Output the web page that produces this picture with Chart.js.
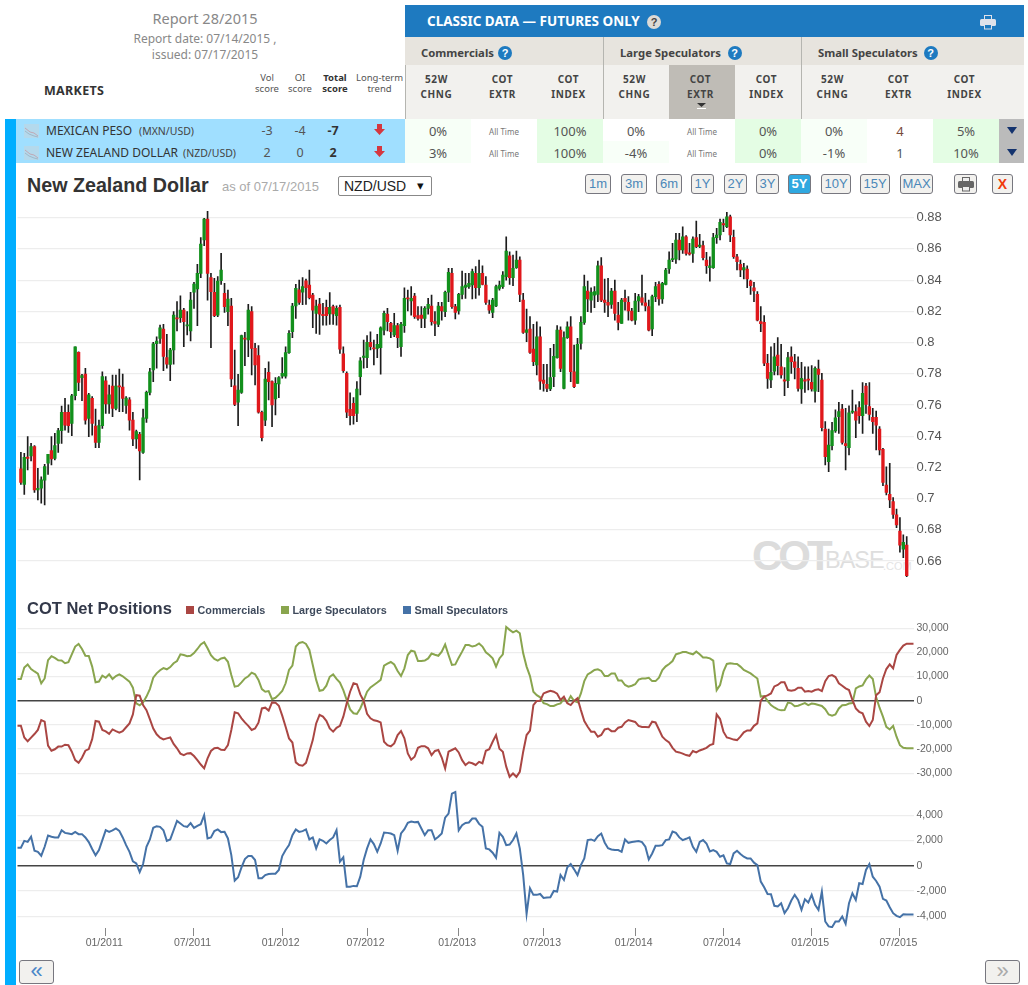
<!DOCTYPE html>
<html>
<head>
<meta charset="utf-8">
<title>COT NZD/USD</title>
<script src="https://cdn.jsdelivr.net/npm/chart.js@4/dist/chart.umd.min.js"></script>
<style>
html,body{margin:0;padding:0;background:#fff;overflow:hidden}
#page{position:relative;width:1028px;height:985px;overflow:hidden;font-family:"Noto Sans",sans-serif}
#page div{position:absolute;white-space:nowrap}
svg{display:block}
canvas{position:absolute;left:0}
.btn{box-sizing:border-box;background:#f2f1ee;border:1px solid #77777f;border-radius:3px;color:#4a87b8;font:13px "Liberation Sans",sans-serif;text-align:center;line-height:18px}
.q{width:14px;height:14px;border-radius:7px;color:#fff;font:bold 11px/14px "Liberation Sans",sans-serif;text-align:center;background:#1e7ac0}
</style>
</head>
<body>
<div id="page">
  <div style="left:5px;top:119px;width:11px;height:866px;background:#00aeff"></div>
  <div style="left:16px;top:119px;width:389px;height:44px;background:#a0dfff"></div>
  <div style="left:405px;top:5px;width:619px;height:32px;background:#1e7ac0"></div>
  <div style="left:405px;top:37px;width:619px;height:28px;background:#e7e4de"></div>
  <div style="left:405px;top:65px;width:619px;height:54px;background:#f2f1ee"></div>
  <div style="left:669px;top:65px;width:66px;height:54px;background:#bfbcb6"></div>
  <div style="left:405px;top:65px;width:1px;height:54px;background:#b5b5b0"></div>
  <div style="left:603px;top:37px;width:1px;height:82px;background:#b5b5b0"></div>
  <div style="left:801px;top:37px;width:1px;height:82px;background:#b5b5b0"></div>
  <div style="left:999px;top:119px;width:25px;height:44px;background:#bbb"></div>
  <div id="wm1" style="left:752px;top:532px;font:bold 42px 'Liberation Sans';letter-spacing:-4px;color:#dcdcdc">COT</div>
  <div id="wm2" style="left:825px;top:547px;font:23.5px 'Liberation Sans';letter-spacing:-1px;color:#dedede">BASE</div>
  <div id="wm3" style="left:883px;top:560px;font:11px 'Liberation Sans';color:#e4e4e4">.COM</div>
  <canvas id="chart_price" width="1028" height="385" style="top:200px"></canvas>
  <canvas id="chart_net" width="1028" height="175" style="top:615px"></canvas>
  <canvas id="chart_small" width="1028" height="170" style="top:785px"></canvas>
</div>
<script>
// weekly candles, 07/2010 - 07/2015
const opens = [
  .719,.7091,.7264,.7273,.7333,.7055,.7066,.7118,.7226,.7307,
  .7258,.7354,.7435,.7553,.7553,.7482,.7659,.7937,.7775,.7798,
  .7514,.7642,.7465,.736,.7467,.7755,.7606,.7721,.7578,.7721,
  .7715,.7597,.7632,.7503,.7382,.7412,.7296,.7514,.7681,.7824,
  .7993,.8027,.8087,.7903,.786,.7952,.8159,.8159,.8208,.8106,
  .8074,.8322,.8343,.8443,.8657,.8791,.8416,.8322,.8176,.8396,
  .8315,.8198,.8234,.7723,.7617,.7681,.8027,.8016,.8198,.7963,
  .7916,.7553,.7503,.7809,.7749,.7638,.7734,.7785,.7785,.7935,
  .8069,.8234,.8337,.8322,.8396,.8369,.8304,.8187,.8247,.8181,
  .8226,.8183,.823,.8172,.8226,.7927,.7802,.7572,.761,.7546,
  .7781,.7905,.7903,.8001,.7963,.7963,.7967,.808,.8183,.8123,
  .8048,.8108,.7973,.8108,.8283,.8266,.8298,.8172,.8176,.8155,
  .8219,.8234,.8134,.8116,.823,.8198,.8322,.8443,.823,.8202,
  .8309,.8354,.8358,.8369,.8443,.8351,.8443,.8369,.824,.8193,
  .8234,.8347,.8358,.8422,.8556,.8415,.8479,.8529,.8272,.8065,
  .8087,.7958,.7856,.8037,.7759,.7732,.7702,.7781,.7903,.808,
  .7706,.8031,.8101,.7813,.7738,.7995,.8129,.833,.8272,.8304,
  .8309,.8492,.8272,.8257,.8245,.833,.8176,.8123,.8283,.8257,
  .8202,.8144,.8266,.8287,.8255,.823,.8087,.8294,.8373,.8279,
  .8373,.8471,.8531,.8535,.8657,.8593,.8678,.8571,.8571,.8672,
  .8616,.8621,.8529,.848,.848,.8672,.8689,.8762,.8742,.8806,
  .8674,.855,.8501,.8465,.8471,.8394,.8351,.8309,.8134,.8129,
  .7867,.776,.7817,.792,.7845,.776,.7755,.7909,.7877,.7835,
  .7702,.776,.7764,.7745,.7689,.783,.776,.7446,.7236,.7339,
  .7433,.7525,.7574,.7352,.7326,.7553,.7557,.7583,.7531,.7721,
  .7589,.7521,.7521,.7446,.7315,.7087,.7027,.698,.6895,.6792,
  .6675,.6702
];
const highs = [
  .7296,.729,.7397,.7354,.7339,.7194,.714,.722,.7283,.7397,
  .7418,.745,.7593,.7642,.76,.7668,.7973,.7941,.7796,.7835,
  .7674,.7653,.7574,.7503,.7813,.7781,.7728,.7792,.7792,.783,
  .7798,.7653,.7647,.7553,.7439,.7424,.7574,.7689,.7835,.8001,
  .8037,.8112,.8116,.8053,.7963,.8198,.8262,.83,.8219,.8198,
  .8322,.8386,.8501,.8672,.8796,.8843,.8443,.8411,.8422,.8571,
  .8379,.8336,.8283,.7952,.7796,.8048,.8065,.8245,.823,.7995,
  .798,.7561,.7835,.7877,.7755,.7775,.7781,.7903,.7973,.8076,
  .8251,.8373,.84,.8416,.8407,.8465,.8315,.8272,.8283,.8251,
  .8272,.832,.824,.8236,.824,.7973,.7813,.7678,.7647,.7749,
  .7903,.8016,.8044,.8069,.8016,.8052,.8101,.8202,.8219,.8129,
  .8187,.8123,.8129,.8351,.8336,.8358,.8315,.823,.823,.823,
  .8283,.8304,.8198,.8258,.8258,.833,.8475,.8475,.8245,.8315,
  .8458,.8443,.8443,.8471,.8486,.8529,.8492,.8422,.8272,.8283,
  .8369,.8394,.8454,.8678,.8582,.856,.8586,.855,.8315,.8215,
  .8166,.8116,.8133,.8101,.786,.786,.7963,.7988,.8108,.8101,
  .8069,.8133,.8166,.7984,.8027,.8166,.8433,.8394,.8351,.8358,
  .8522,.8544,.8407,.8411,.8347,.84,.8258,.8283,.8336,.8294,
  .8219,.8315,.8309,.8433,.8315,.8272,.8304,.8386,.839,.8386,
  .8475,.8582,.8635,.87,.87,.8742,.8685,.8636,.8678,.8779,
  .8693,.865,.8578,.855,.87,.8732,.8791,.8791,.8834,.8817,
  .8721,.8565,.8529,.8507,.8492,.84,.8386,.8326,.823,.8172,
  .7924,.7973,.7995,.8031,.7988,.7839,.7937,.7973,.7924,.7909,
  .7873,.7845,.7845,.7852,.7845,.7888,.7802,.7493,.7446,.7488,
  .7568,.7617,.7604,.7578,.7595,.7696,.76,.7621,.7743,.7739,
  .7743,.7578,.7561,.7461,.7322,.7204,.7226,.7006,.6933,.6878,
  .6767,.6756
];
const lows = [
  .7091,.7027,.7183,.7241,.704,.6991,.697,.696,.7155,.7215,
  .7247,.7296,.7354,.7439,.7424,.7403,.7632,.7691,.7627,.7476,
  .7397,.7407,.7326,.7326,.745,.7546,.7546,.7525,.7568,.7557,
  .7557,.7546,.7439,.7339,.7322,.7119,.729,.7488,.7664,.7749,
  .7835,.7995,.782,.7835,.7755,.7862,.8074,.8129,.7973,.8048,
  .801,.8219,.8108,.8416,.862,.8272,.7967,.8166,.8166,.8373,
  .8193,.8108,.7717,.7596,.7467,.7674,.7852,.7909,.7792,.7728,
  .7547,.7369,.7467,.7632,.7461,.7536,.7647,.7771,.7771,.7931,
  .8031,.8155,.8245,.8242,.8245,.8279,.8096,.8059,.8052,.8112,
  .8112,.8116,.8116,.8112,.7931,.7809,.7518,.7472,.7476,.7493,
  .7664,.7835,.7839,.7952,.7856,.7903,.7798,.8048,.8074,.8031,
  .8037,.7967,.7911,.8065,.8202,.8176,.8155,.8144,.8096,.8096,
  .8181,.8112,.8044,.8101,.8144,.8166,.8262,.8219,.8151,.8181,
  .8279,.8283,.8347,.8279,.8283,.8304,.8369,.8245,.8187,.8159,
  .823,.8336,.8347,.84,.8373,.8364,.8475,.8262,.8059,.8005,
  .7931,.7852,.7792,.77,.7689,.7685,.7691,.7717,.7899,.7813,
  .7702,.8027,.7749,.7711,.7738,.7958,.8116,.8198,.8193,.8223,
  .8262,.8262,.8193,.8166,.8219,.8144,.8081,.8123,.8208,.8144,
  .8138,.8116,.8198,.824,.8202,.8074,.8044,.8262,.824,.8251,
  .8369,.8443,.8518,.8507,.8529,.8571,.856,.856,.8514,.8608,
  .8608,.8529,.8443,.8394,.8475,.8636,.8657,.871,.8736,.8646,
  .8539,.8465,.8422,.8407,.8351,.8309,.8262,.8138,.8069,.7852,
  .7706,.7711,.7792,.7792,.7771,.7659,.7711,.7802,.7766,.7689,
  .761,.7681,.7696,.7689,.7617,.7685,.7433,.7215,.7172,.7311,
  .7424,.7418,.7348,.7183,.7279,.7546,.739,.7482,.7418,.7546,
  .7503,.7418,.7311,.7279,.7083,.7023,.6942,.6873,.6814,.6656,
  .6621,.65
];
const closes = [
  .7104,.7264,.7258,.7333,.7055,.7066,.712,.7205,.7283,.7254,
  .7339,.7435,.7553,.7471,.7467,.7659,.7973,.7745,.7788,.7503,
  .7664,.7482,.736,.7467,.7781,.7606,.7664,.7578,.7721,.7715,
  .7641,.7644,.7503,.7382,.7429,.7305,.7518,.7681,.7813,.7991,
  .801,.8095,.7911,.7862,.7952,.8176,.8151,.8208,.8134,.8112,
  .8272,.8375,.8443,.8631,.8791,.8443,.8326,.8172,.8394,.8465,
  .823,.8279,.7766,.7604,.7696,.8044,.8021,.8208,.7963,.7856,
  .7553,.7391,.7766,.7749,.76,.7738,.7775,.7802,.7935,.8059,
  .8234,.8347,.8257,.8358,.8351,.8287,.8208,.8234,.8181,.8172,
  .8172,.8226,.8183,.8219,.7958,.782,.7553,.7532,.7532,.7702,
  .7882,.7908,.8001,.7973,.7959,.7988,.8095,.8187,.8134,.8069,
  .8108,.8031,.8116,.8283,.8279,.8283,.8166,.8155,.8155,.8219,
  .8245,.8134,.8123,.8234,.8202,.8322,.845,.823,.8193,.8309,
  .8358,.8369,.8379,.8454,.8351,.8443,.8373,.8257,.8208,.8272,
  .8358,.8369,.8433,.8586,.8415,.8475,.8529,.8309,.8065,.8082,
  .7937,.7877,.8037,.7753,.7738,.7706,.7775,.7911,.808,.7834,
  .8031,.8101,.7813,.7717,.7988,.8129,.8358,.8279,.8322,.8326,
  .8492,.8272,.8257,.824,.833,.8187,.8129,.8272,.8262,.8202,
  .8144,.8266,.8294,.8257,.8234,.808,.8294,.8358,.8279,.8379,
  .8465,.8529,.8535,.8657,.8593,.8678,.8571,.8567,.8663,.8614,
  .8625,.8544,.8492,.8491,.8672,.8689,.877,.8753,.8806,.8689,
  .855,.8518,.8465,.848,.8407,.8364,.833,.8144,.8121,.7867,
  .777,.7809,.7909,.7852,.7792,.7753,.7903,.7877,.7841,.7706,
  .777,.7753,.7758,.7702,.7835,.7796,.7454,.7268,.7343,.7435,
  .7518,.7557,.736,.7339,.755,.7561,.7503,.7531,.7674,.7604,
  .754,.7493,.7471,.7311,.7104,.704,.6991,.6899,.6831,.6702,
  .672,.6506
];

// net positions, one value a week
const commercials = [
  -10400,-10400,-15200,-16800,-15300,-13800,-12100,-8000,-8700,-18600,
  -20700,-20100,-19000,-19000,-18200,-18400,-21100,-24600,-25700,-23600,
  -20700,-20000,-15900,-8400,-8700,-12100,-12700,-13700,-11900,-12600,
  -13200,-12600,-11000,-9400,-5700,2300,2100,-1800,-3900,-7600,
  -11500,-13900,-15300,-16000,-15600,-15200,-17900,-19700,-21900,-22500,
  -21800,-21700,-22900,-24600,-26400,-28000,-23900,-20800,-19700,-19500,
  -20300,-20400,-18400,-12100,-4800,-5200,-7300,-9000,-10400,-12100,
  -11500,-9100,-3200,-2900,-4100,-700,-800,-2100,-6200,-10800,
  -15600,-17300,-25500,-26600,-26900,-25700,-21100,-16300,-9400,-5900,
  -6600,-8300,-11500,-12800,-11200,-10400,-6600,-1100,3700,7200,
  6800,2600,-100,-5400,-7300,-8100,-8400,-9000,-17000,-18400,
  -18900,-17700,-14200,-12600,-15600,-21800,-24400,-23200,-19500,-18800,
  -18800,-19700,-22500,-20800,-20400,-23500,-28000,-21100,-20400,-19700,
  -21400,-24600,-26600,-25500,-25900,-26600,-25300,-25900,-20700,-20100,
  -17000,-14200,-19900,-21100,-27300,-31500,-30100,-31500,-29400,-21100,
  -14200,-12400,-1800,-100,0,3000,3600,4100,3700,2900,
  300,1700,-1100,-1800,-100,1000,-3900,-8400,-10800,-12800,
  -12800,-14900,-14200,-11900,-11500,-12600,-12600,-11200,-10800,-9000,
  -8000,-8400,-8800,-10400,-10900,-10900,-11000,-8700,-9000,-11900,
  -14900,-16300,-17300,-19500,-21100,-21400,-21900,-22500,-22800,-20800,
  -21400,-20600,-20100,-19500,-18400,-17900,-5700,-7600,-12800,-15200,
  -15600,-16100,-16300,-14900,-13100,-12300,-12300,-10400,-9400,0,
  1700,2200,3000,5900,6500,7600,7600,4400,4100,4400,
  5400,5400,3700,4000,3700,4400,4700,4000,8100,10200,
  10600,9800,7200,6200,5100,4400,300,-3200,-4600,-5200,
  -8700,-10500,-8000,2300,3500,9200,13100,15000,13400,18900,
  21000,22800,23600,23600,23600
];
const largeSpecs = [
  9000,9000,13700,15000,13100,12100,11200,7200,9200,16800,
  18400,17700,16700,16600,15500,15900,19200,22400,23500,21400,
  18600,18500,14100,7600,7900,10400,9500,10900,9000,10200,
  10900,10100,9000,7900,5400,-1100,-1900,-700,1700,4800,
  9500,11300,12600,13500,13000,13900,15500,16400,19200,18900,
  18400,18600,19700,21400,23300,24200,21700,18800,17300,16600,
  17500,17800,16100,10600,5800,6100,7600,9200,10100,11600,
  10900,8600,4800,3700,4000,600,1200,2500,4000,7200,
  12700,14500,22400,23900,24300,23500,21000,14800,8600,4100,
  4400,6200,9900,10900,9000,7500,4400,300,-3600,-5200,
  -5500,-3200,100,3700,5500,6500,7500,8600,14500,15300,
  16000,15000,12300,10200,13400,18900,20700,20300,16400,16400,
  16600,17500,19500,19000,18600,20300,23300,18900,14800,15000,
  17800,20300,23000,23000,22400,22800,23700,22400,20000,18900,
  17500,14100,17500,19200,30500,29300,28300,29000,27900,19600,
  14100,10200,3700,2300,1400,-1000,-1400,-2200,-2200,-1500,
  -1100,700,-700,1900,-100,-600,3000,8100,10900,11700,
  12700,13000,12300,10200,10200,11300,11300,8400,8400,6500,
  5800,6200,6800,8700,9200,9200,9500,8100,8100,9500,
  12700,14200,15200,16400,19200,19600,20100,20100,19600,19200,
  20300,19200,17900,17900,17500,16600,4400,6500,12000,15200,
  15500,15300,15200,14100,12700,12000,11300,10200,9200,1700,
  1900,-100,-1800,-2800,-3600,-4000,-3900,-800,-1100,-2300,
  -2100,-1500,-1000,-1800,-1200,-1400,-1800,-2200,-3500,-5700,
  -6200,-5700,-3200,-1900,-1800,-1200,-1000,5100,5900,6300,
  8800,10400,9000,1400,-2900,-6600,-10800,-11900,-10400,-14900,
  -18400,-19500,-19700,-19700,-19700
];
const smallSpecs = [
  1420,1420,1970,1890,2290,1180,1100,790,1500,2390,
  2290,2240,2240,2810,2600,2550,2500,2680,2500,2500,
  2240,1870,1320,820,1240,2030,2810,2680,2790,2950,
  2760,2240,1630,1100,340,180,-500,130,1500,2080,
  3000,3130,3080,2810,1970,2080,2810,3550,3340,3130,
  3080,3370,3000,3160,3290,4000,2160,2240,2740,2870,
  2660,2680,2160,840,-1180,-920,-130,530,760,760,
  450,-1000,-1000,-740,-660,-630,-630,-340,760,1240,
  1630,2420,2870,2680,2740,2870,2080,2240,1370,2080,
  1970,1760,2030,2240,2810,320,660,-1660,-1660,-1600,
  -1630,-870,450,1370,2080,1710,1100,1760,2630,2600,
  2550,2420,1180,2550,2890,3390,3500,3450,3470,2950,
  2420,2810,2810,2080,2290,2550,3810,4130,5710,5840,
  2810,3210,3390,3420,3730,3730,3310,3080,1370,1290,
  1030,630,2600,2290,1630,1680,2030,2550,1370,-740,
  -3810,-1790,-2310,-2310,-2240,-2550,-2520,-2500,-2000,-2050,
  -740,-1130,-130,130,-290,-740,50,580,2030,2080,
  1970,2340,2550,1840,1390,1290,1240,1240,1100,2080,
  1810,1870,1920,1950,1870,1500,500,970,1580,1580,
  1630,2030,2080,2710,2600,2240,2030,2130,2240,1500,
  1100,1890,2030,1760,1130,1240,1100,710,820,180,
  130,970,1180,920,710,580,580,240,50,-1260,
  -1710,-2240,-2260,-3180,-3230,-2970,-3760,-3370,-2760,-2310,
  -2710,-3500,-2660,-2920,-2310,-3100,-3500,-2050,-4420,-4810,
  -4870,-4420,-4420,-4020,-4600,-2970,-2180,-2710,-1390,-1450,
  -340,130,-870,-1210,-1660,-2630,-2760,-3290,-3760,-3970,
  -4080,-3840,-3870,-3870,-3870
];

const priceTicks = [0.88,0.86,0.84,0.82,0.8,0.78,0.76,0.74,0.72,0.7,0.68,0.66];
const netTicks = [30000,20000,10000,0,-10000,-20000,-30000];
const smallTicks = [4000,2000,0,-2000,-4000];
const tickWeeks = [26,52,78,103,130,155,182,208,234,260];
const tickLabels = ['01/2011','07/2011','01/2012','07/2012','01/2013','07/2013','01/2014','07/2014','01/2015','07/2015'];

const weeks = Array.from({length: 265}, (_, i) => i);
const axisFont = '"Liberation Sans", Arial, sans-serif';
const GRID = '#ededed';

function yAxis(ticks, min, max, fontSize, color, fmt) {
    return {
        position: 'right',
        min: min,
        max: max,
        afterBuildTicks: s => { s.ticks = ticks.map(v => ({value: v})); },
        // keep the plot box fixed, no room kept for half a label
        afterFit: s => { s.width = 114.5; s.paddingTop = 0; s.paddingBottom = 0; },
        border: {display: false},
        grid: {
            drawTicks: false,
            color: c => c.tick && c.tick.value === 0 ? '#444' : GRID,
            lineWidth: c => c.tick && c.tick.value === 0 ? 1.4 : 1.2
        },
        ticks: {
            padding: 3,
            autoSkip: false,
            color: color,
            font: {family: axisFont, size: fontSize},
            callback: fmt
        }
    };
}

const thousands = v => v.toLocaleString('en-US');

// price panel: thin bar high-low behind, thick bar open-close
new Chart(document.getElementById('chart_price'), {
    type: 'bar',
    data: {
        labels: weeks,
        datasets: [
            {
                label: 'High-Low',
                data: [null].concat(highs.map((h, i) => [lows[i], h])),
                backgroundColor: '#1c1c1c',
                barThickness: 1,
                grouped: false,
                order: 2
            },
            {
                label: 'Open-Close',
                data: [null].concat(opens.map((o, i) => [o, closes[i]])),
                backgroundColor: [null].concat(opens.map((o, i) => closes[i] >= o ? '#12901c' : '#e0181c')),
                barThickness: 2.7,
                minBarLength: 1.2,
                grouped: false,
                order: 1
            }
        ]
    },
    options: {
        responsive: false,
        animation: false,
        layout: {autoPadding: false, padding: {left: 17.5, top: 11, bottom: 5}},
        plugins: {legend: {display: false}, tooltip: {enabled: false}},
        scales: {
            x: {display: false, offset: false},
            y: yAxis(priceTicks, 0.6478, 0.8843, 13, '#555', v => String(parseFloat(v.toFixed(2))))
        }
    }
});

function lineSet(label, data, color) {
    return {label: label, data: data, borderColor: color, backgroundColor: color, borderWidth: 2, pointRadius: 0, tension: 0};
}

new Chart(document.getElementById('chart_net'), {
    type: 'line',
    data: {
        labels: weeks,
        datasets: [
            lineSet('Commercials', commercials, '#aa4643'),
            lineSet('Large Speculators', largeSpecs, '#89a54e')
        ]
    },
    options: {
        responsive: false,
        animation: false,
        layout: {autoPadding: false, padding: {left: 17.5, top: 7, bottom: 8}},
        plugins: {legend: {display: false}, tooltip: {enabled: false}},
        scales: {
            x: {display: false},
            y: yAxis(netTicks, -33640, 32560, 10.5, '#666', thousands)
        }
    }
});

new Chart(document.getElementById('chart_small'), {
    type: 'line',
    data: {
        labels: weeks,
        datasets: [lineSet('Small Speculators', smallSpecs, '#4572a7')]
    },
    options: {
        responsive: false,
        animation: false,
        layout: {autoPadding: false, padding: {left: 17.5, top: 5}},
        plugins: {legend: {display: false}, tooltip: {enabled: false}},
        scales: {
            x: {
                afterBuildTicks: s => { s.ticks = tickWeeks.map(v => ({value: v})); },
                afterFit: s => { s.height = 27; s.paddingLeft = 0; s.paddingRight = 0; },
                border: {display: false},
                grid: {drawOnChartArea: false, tickColor: '#888', tickLength: 8},
                ticks: {
                    autoSkip: false,
                    maxRotation: 0,
                    padding: 1,
                    labelOffset: -1.5,
                    color: '#666',
                    font: {family: axisFont, size: 10.5},
                    callback: v => tickLabels[tickWeeks.indexOf(v)]
                }
            },
            y: yAxis(smallTicks, -4935, 5996, 10.5, '#666', thousands)
        }
    }
});

// page furniture around the charts
const page = document.getElementById('page');
function put(text, x, y, style, anchor) {
    const d = document.createElement('div');
    d.textContent = text;
    d.style.cssText = 'left:' + x + 'px;top:' + y + 'px;line-height:1;transform:translate(' + (anchor === 'c' ? '-50%' : '0') + ',-50%);' + (style || '');
    page.appendChild(d);
    return d;
}
function box(x, y, w, h, color) {
    const d = document.createElement('div');
    d.style.cssText = 'left:' + x + 'px;top:' + y + 'px;width:' + w + 'px;height:' + h + 'px;background:' + color;
    page.insertBefore(d, page.querySelector('canvas'));
}
function question(x, y, bg, fg) {
    const d = document.createElement('div');
    d.className = 'q';
    d.textContent = '?';
    d.style.left = (x - 7) + 'px';
    d.style.top = (y - 7) + 'px';
    if (bg) { d.style.background = bg; d.style.color = fg; }
    page.appendChild(d);
}
function svg(markup, x, y, w, h) {
    const d = document.createElement('div');
    d.style.cssText = 'left:' + x + 'px;top:' + y + 'px;width:' + w + 'px;height:' + h + 'px';
    d.innerHTML = '<svg width="' + w + '" height="' + h + '" xmlns="http://www.w3.org/2000/svg">' + markup + '</svg>';
    page.appendChild(d);
}
const printer = (c, p) => '<rect x="4.5" y="0.5" width="7" height="4" fill="' + p + '" stroke="' + c + '"/><rect x="0" y="4" width="16" height="7" rx="1.5" fill="' + c + '"/><rect x="4.5" y="9.5" width="7" height="4.5" fill="' + p + '" stroke="' + c + '"/>';
const greyT = 'color:#888;font-size:';

put('Report 28/2015', 205, 18, greyT + '14.5px', 'c');
put('Report date: 07/14/2015 ,', 205, 38.5, greyT + '12px', 'c');
put('issued: 07/17/2015', 205, 54.5, greyT + '12px', 'c');
put('MARKETS', 44, 90.5, 'font-weight:bold;font-size:12.5px;color:#333;letter-spacing:.3px');
[['Vol','score',267,''],['OI','score',300,''],['Total','score',335,'font-weight:bold;color:#333;'],['Long-term','trend',379.5,'']].forEach(h => {
    put(h[0], h[2], 77.5, 'font-size:9.5px;color:#555;' + h[3], 'c');
    put(h[1], h[2], 88.5, 'font-size:9.5px;color:#555;' + h[3], 'c');
});

const rows = [
    ['MEXICAN PESO', '(MXN/USD)', 139, '-3', '-4', '-7', 130.5],
    ['NEW ZEALAND DOLLAR', '(NZD/USD)', 183, '2', '0', '2', 152.5]
];
rows.forEach(r => {
    const y = r[6];
    svg('<rect width="15" height="14" fill="#b4d9ec"/><polyline points="1,4 6,8 10,9 14,12" fill="none" stroke="#c0a8b4"/><polyline points="1,7 5,10 10,12 14,13" fill="none" stroke="#a0b8c8"/>', 24, y - 7, 15, 14);
    put(r[0], 46, y, 'font-size:12px;color:#333');
    put(r[1], r[2], y, 'font-size:10.5px;color:#444');
    put(r[3], 267, y, 'font-size:12.5px;color:#555', 'c');
    put(r[4], 300, y, 'font-size:12.5px;color:#555', 'c');
    put(r[5], 333, y, 'font-size:12.5px;font-weight:bold;color:#333', 'c');
    svg('<polygon points="3,0 8,0 8,5 11,5 5.5,11 0,5 3,5" fill="#d5373f"/>', 373.5, y - 7, 11, 11);
});

// table body cells, x step 66 from 405
const cellX = [405,471,537,603,669,735,801,867,933];
const cellBg = [
    ['#f7fff7','#fff','#e4fde4','#fff','#fff','#e4fde4','#f8fff8','#fff','#e4fde4'],
    ['#f7fff7','#fff','#e4fde4','#f8fff8','#fff','#e4fde4','#f8fff8','#fff','#e4fde4']
];
const cellText = [
    ['0%','All Time','100%','0%','All Time','0%','0%','4','5%'],
    ['3%','All Time','100%','-4%','All Time','0%','-1%','1','10%']
];
cellX.forEach((x, c) => {
    box(x, 119, 66, 22, cellBg[0][c]);
    box(x, 141, 66, 22, cellBg[1][c]);
    [0, 1].forEach(i => {
        const small = cellText[i][c] === 'All Time';
        put(cellText[i][c], x + 33, (small ? 132 : 130.5) + i * 22, small ? 'font-size:8px;color:#777' : 'font-size:13px;color:' + (cellText[i][c] === '4' ? '#7a4a3a' : '#555'), 'c');
    });
});
[0, 1].forEach(i => svg('<polygon points="0,0 10,0 5,7" fill="#14336e"/>', 1006.5, 126.5 + i * 22, 10, 7));

put('CLASSIC DATA \u2014 FUTURES ONLY', 427, 22, 'font-weight:bold;font-size:13.5px;color:#fff');
question(654, 22, '#dcdad6', '#444');
svg(printer('#dfe2ea', '#1e7ac0'), 980, 15, 16, 15);
[['Commercials',421,505],['Large Speculators',620,734.5],['Small Speculators',818,930.5]].forEach(g => {
    put(g[0], g[1], 53, 'font-weight:bold;font-size:11.3px;color:#444');
    question(g[2], 53);
});
const headA = ['52W','COT','COT','52W','COT','COT','52W','COT','COT'];
const headB = ['CHNG','EXTR','INDEX','CHNG','EXTR','INDEX','CHNG','EXTR','INDEX'];
cellX.forEach((x, c) => {
    put(headA[c], x + 31.5, 78.5, 'font-weight:bold;font-size:10px;color:#444;letter-spacing:.6px', 'c');
    put(headB[c], x + 31.5, 93.5, 'font-weight:bold;font-size:10px;color:#444;letter-spacing:.6px', 'c');
});
svg('<polygon points="0,0 9,0 4.5,4" fill="#333"/><rect x="0" y="5" width="9" height="1" fill="#fff"/>', 697, 103, 9, 6);

put('New Zealand Dollar', 27, 184.5, 'font:bold 19.7px \'Liberation Sans\';color:#333');
put('as of 07/17/2015', 222, 186, 'font:13px \'Liberation Sans\';color:#aaa');
put('NZD/USD', 338, 186, 'box-sizing:border-box;width:94px;height:20px;border:1px solid #888;border-radius:2px;background:#fff;font:14px/18px \'Liberation Sans\';color:#222;padding-left:5px');
put('\u25BE', 417, 185, 'font:13px \'DejaVu Sans\';color:#111');

const rangeLabels = ['1m','3m','6m','1Y','2Y','3Y','5Y','10Y','15Y','MAX'];
const rangeX = [585,621,656,691,724,756,788,821,860,900];
const rangeW = [26,26,26,23,23,23,23,30,30,33];
rangeLabels.forEach((t, i) => {
    const b = document.createElement('div');
    b.className = 'btn';
    b.textContent = t;
    b.style.cssText = 'left:' + rangeX[i] + 'px;top:174px;width:' + rangeW[i] + 'px;height:20px;' + (t === '5Y' ? 'background:#2fa8e0;color:#fff;font-weight:bold' : '');
    page.appendChild(b);
});
const pb = document.createElement('div');
pb.className = 'btn';
pb.style.cssText = 'left:954px;top:174px;width:23px;height:20px';
page.appendChild(pb);
svg(printer('#666', '#eee'), 957.5, 177, 16, 15);
const xb = document.createElement('div');
xb.className = 'btn';
xb.textContent = 'X';
xb.style.cssText = 'left:992px;top:174px;width:21px;height:20px;color:#f03a0a;font-weight:bold;font-size:14px';
page.appendChild(xb);

put('COT Net Positions', 27, 607.5, 'font:bold 16.5px \'Liberation Sans\';color:#33394a');
const legendNames = ['Commercials','Large Speculators','Small Speculators'];
const legendColors = ['#aa4643','#89a54e','#4572a7'];
const legendX = [186,281,403];
legendNames.forEach((n, i) => {
    box(legendX[i], 606, 8, 8, legendColors[i]);
    put(n, legendX[i] + 11.5, 610, 'font:bold 10.8px \'Liberation Sans\';color:#3e4a5c');
});

['\u00AB','\u00BB'].forEach((t, i) => {
    const b = document.createElement('div');
    b.className = 'btn';
    b.textContent = t;
    b.style.cssText = 'left:' + (i ? 985 : 19) + 'px;top:960px;width:35px;height:24px;font-size:22px;line-height:20px;color:' + (i ? '#aaa' : '#4a87c8');
    page.appendChild(b);
});
</script>
</body>
</html>
